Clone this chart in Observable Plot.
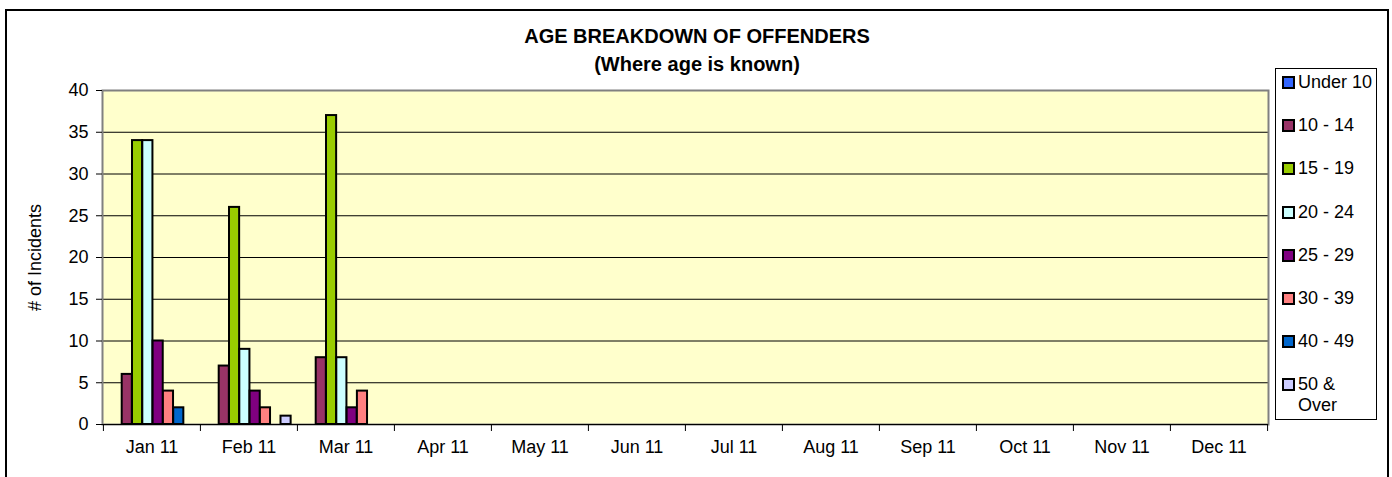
<!DOCTYPE html>
<html><head><meta charset="utf-8">
<script src="https://cdn.jsdelivr.net/npm/d3@7"></script>
<script src="https://cdn.jsdelivr.net/npm/@observablehq/plot@0.6"></script>
<style>
html,body{margin:0;padding:0;background:#fff;}
#wrap{position:relative;width:1392px;height:477px;overflow:hidden;font-family:"Liberation Sans",Arial,sans-serif;color:#000;}
#chart{position:absolute;left:0;top:0;}
#border{position:absolute;left:5px;top:9px;width:1384px;height:520px;border:2px solid #000;box-sizing:border-box;}
#title{position:absolute;left:6px;width:1382px;top:22px;text-align:center;font-weight:bold;font-size:20px;line-height:28px;}
#legend{position:absolute;left:1275px;top:68px;width:102px;height:352px;border:1px solid #000;box-sizing:border-box;background:#fff;}
.item{position:absolute;left:6px;display:flex;align-items:flex-start;font-size:18px;line-height:21px;white-space:nowrap;}
.sw{width:9px;height:9px;border:2px solid #000;margin-top:4px;margin-right:3px;flex:none;}
</style></head>
<body>
<div id="wrap">
  <div id="chart"></div>
  <div id="border"></div>
  <div id="title">AGE BREAKDOWN OF OFFENDERS<br>(Where age is known)</div>
  <div id="legend"></div>
</div>
<script>
// ---- data ----
const months = ["Jan 11","Feb 11","Mar 11","Apr 11","May 11","Jun 11","Jul 11","Aug 11","Sep 11","Oct 11","Nov 11","Dec 11"];
const ageGroups = ["Under 10","10 - 14","15 - 19","20 - 24","25 - 29","30 - 39","40 - 49","50 & Over"];
const legendLabels = ["Under 10","10 - 14","15 - 19","20 - 24","25 - 29","30 - 39","40 - 49","50 &<br>Over"];
const colors = ["#3366FF","#993366","#99CC00","#CCFFFF","#800080","#FF8080","#0066CC","#CCCCFF"];
// values for Jan 11, Feb 11, Mar 11 (later months have no data)
const under10  = [0, 0, 0];
const age10_14 = [6, 7, 8];
const age15_19 = [34, 26, 37];
const age20_24 = [34, 9, 8];
const age25_29 = [10, 4, 2];
const age30_39 = [4, 2, 4];
const age40_49 = [2, 0, 0];
const age50up  = [0, 1, 0];
const yTicks = [0,5,10,15,20,25,30,35,40];
const yLabel = "# of Incidents";

const series = [under10, age10_14, age15_19, age20_24, age25_29, age30_39, age40_49, age50up];
const rows = [];
series.forEach((vals, j) => vals.forEach((v, i) => rows.push({month: months[i], group: ageGroups[j], gi: j, value: v})));

// ---- layout ----
const W = 1392, H = 477, mL = 102, mR = 124, mT = 90, mB = 53;
const bw = (W - mL - mR) / months.length;
const barW = 10.3, lead = 8.4;
const font = "'Liberation Sans', Arial, sans-serif";

const barMarks = ageGroups.map((g, j) => Plot.barY(rows.filter(d => d.gi === j && d.value > 0), {
  x: "month", y: "value", fill: colors[j], stroke: "#000", strokeWidth: 2,
  insetLeft: lead + j * barW, insetRight: bw - lead - (j + 1) * barW
}));

const chart = Plot.plot({
  width: W, height: H,
  marginLeft: mL, marginRight: mR, marginTop: mT, marginBottom: mB,
  style: {fontFamily: font, fontSize: "18px", background: "transparent", color: "#000"},
  x: {domain: months, padding: 0, axis: null},
  y: {domain: [0, 40], axis: null},
  marks: [
    Plot.frame({fill: "#FFFFCC"}),
    Plot.gridY(yTicks.filter(t => t > 0 && t < 40), {stroke: "#000", strokeOpacity: 1, strokeWidth: 1}),
    Plot.frame({stroke: "#808080", strokeWidth: 2}),
    ...barMarks,
    Plot.ruleY([0], {stroke: "#000", strokeWidth: 1}),
    Plot.axisY(yTicks, {tickSize: 6, tickPadding: 8, fontSize: 18, label: null}),
    Plot.axisX(months, {tickSize: 0, tickPadding: 16, fontSize: 18, label: null}),
    Plot.axisX(months, {tickSize: 7, text: null, dx: -bw / 2, label: null}),
    Plot.axisX([months[months.length - 1]], {tickSize: 7, text: null, dx: bw / 2, label: null}),
    Plot.text([yLabel], {frameAnchor: "left", textAnchor: "middle", dx: -67, rotate: -90, fontSize: 18, text: d => d})
  ]
});
document.getElementById("chart").appendChild(chart);

// legend
const leg = document.getElementById("legend");
legendLabels.forEach((lab, j) => {
  const it = document.createElement("div");
  it.className = "item";
  it.style.top = (3 + j * 43.2) + "px";
  it.innerHTML = `<span class="sw" style="background:${colors[j]}"></span><span>${lab}</span>`;
  leg.appendChild(it);
});
</script>
</body></html>
